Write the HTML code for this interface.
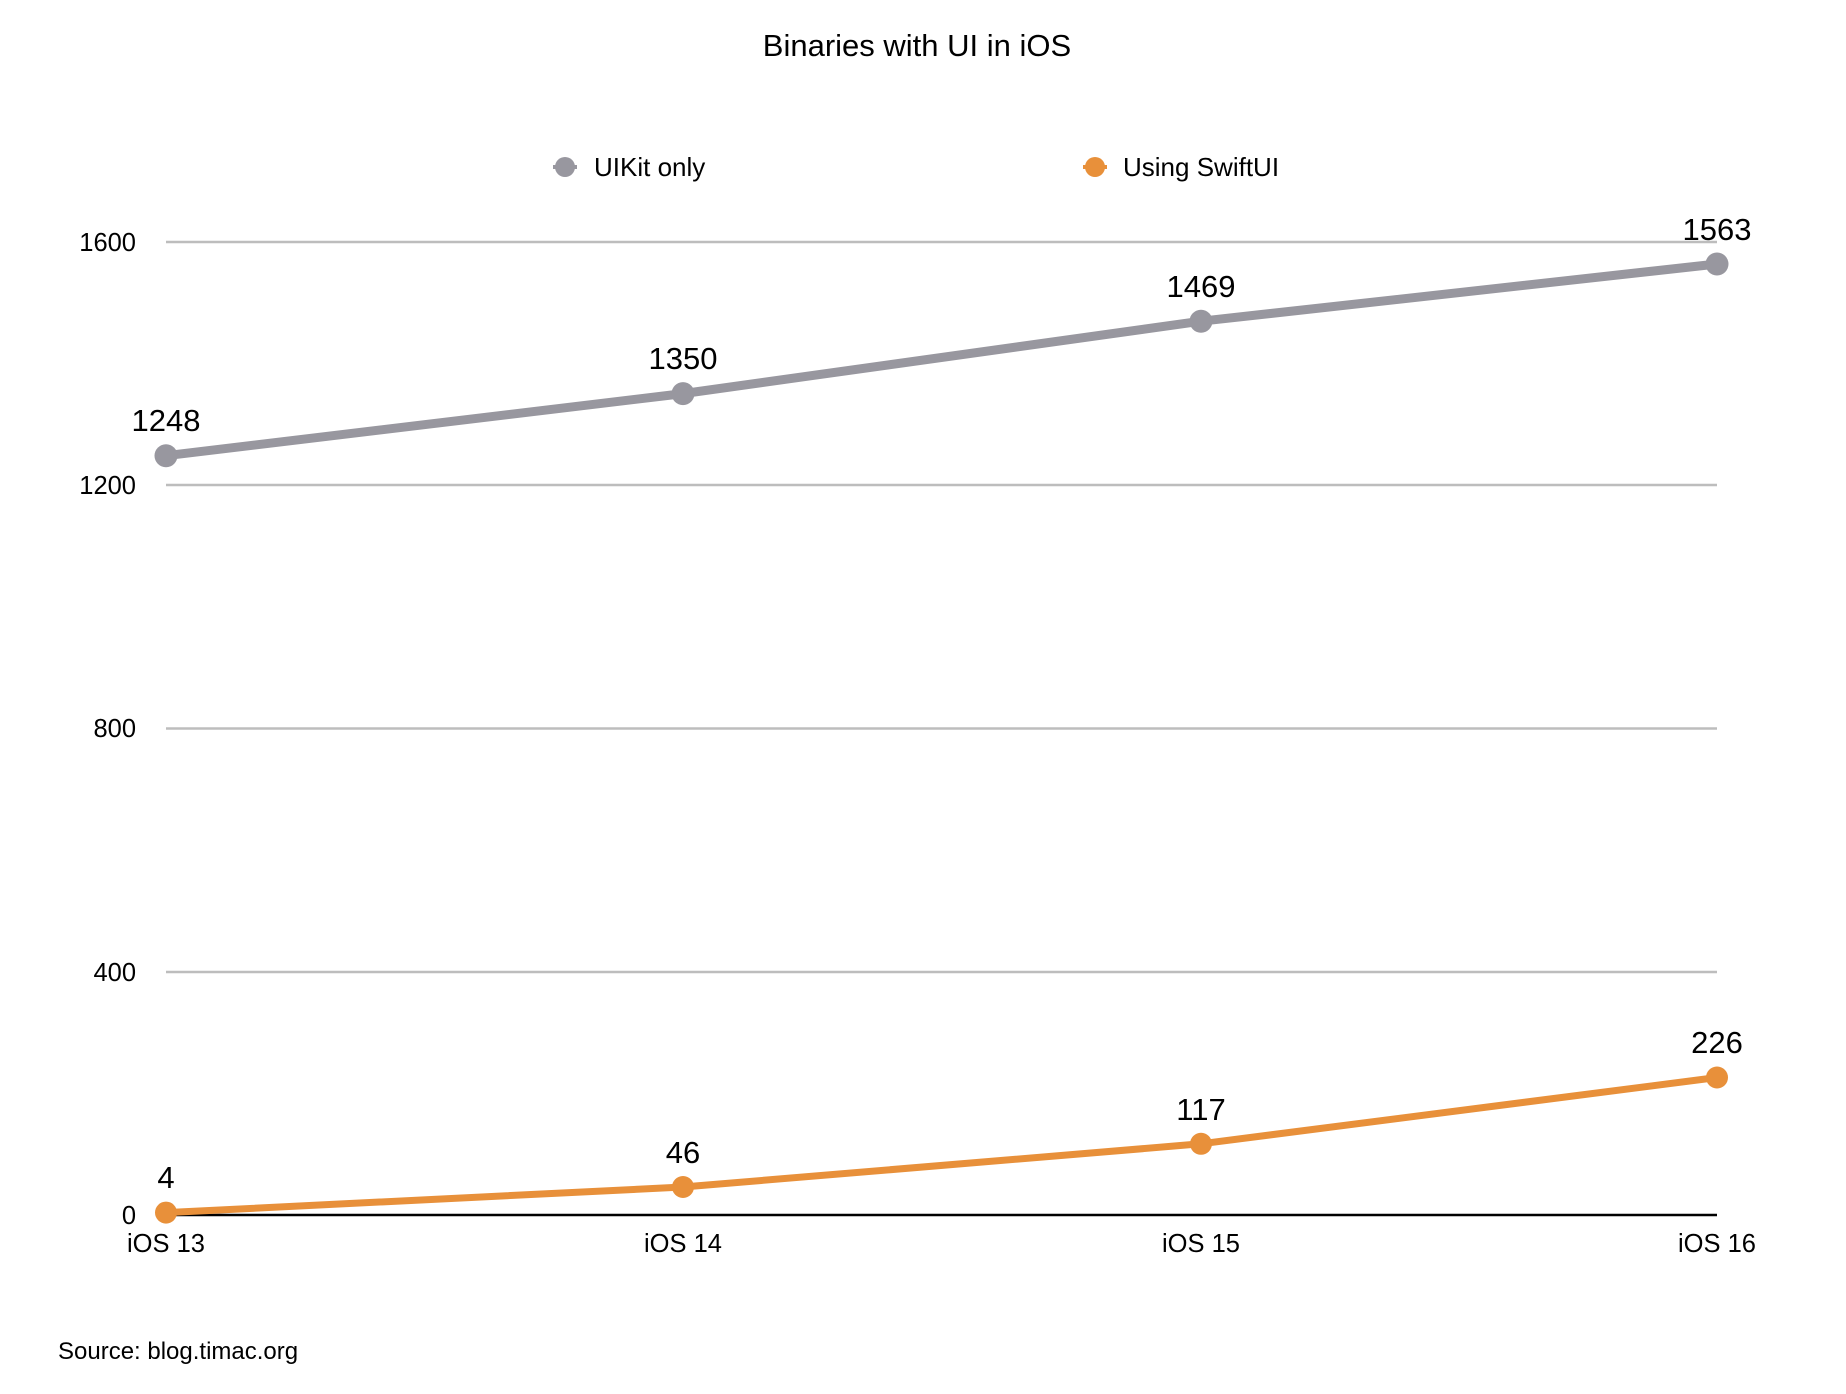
<!DOCTYPE html>
<html><head><meta charset="utf-8"><style>
html,body{margin:0;padding:0;background:#fff;}
svg{display:block;font-family:"Liberation Sans",Arial,sans-serif;}
</style></head><body>
<svg width="1846" height="1394" viewBox="0 0 1846 1394" xmlns="http://www.w3.org/2000/svg">
<rect width="1846" height="1394" fill="#fff"/>
<text x="917" y="56" font-size="31" text-anchor="middle" fill="#000">Binaries with UI in iOS</text>
<!-- legend -->
<line x1="553" y1="167" x2="577" y2="167" stroke="#98979f" stroke-width="4"/>
<circle cx="565" cy="167" r="10" fill="#98979f"/>
<text x="594" y="176" font-size="26" fill="#000">UIKit only</text>
<line x1="1083" y1="167" x2="1107" y2="167" stroke="#e8903a" stroke-width="4"/>
<circle cx="1095" cy="167" r="10" fill="#e8903a"/>
<text x="1123" y="176" font-size="26" fill="#000">Using SwiftUI</text>
<!-- grid -->
<g stroke="#bdbdbd" stroke-width="2.5">
<line x1="166" y1="242" x2="1717" y2="242"/>
<line x1="166" y1="485" x2="1717" y2="485"/>
<line x1="166" y1="728.5" x2="1717" y2="728.5"/>
<line x1="166" y1="972" x2="1717" y2="972"/>
</g>
<line x1="166" y1="1215" x2="1717" y2="1215" stroke="#000" stroke-width="2.5"/>
<g font-size="25.5" text-anchor="end" fill="#000">
<text x="136" y="251">1600</text>
<text x="136" y="494">1200</text>
<text x="136" y="737">800</text>
<text x="136" y="981">400</text>
<text x="136" y="1224">0</text>
</g>
<g font-size="25.5" text-anchor="middle" fill="#000">
<text x="166" y="1252">iOS 13</text>
<text x="683" y="1252">iOS 14</text>
<text x="1201" y="1252">iOS 15</text>
<text x="1717" y="1252">iOS 16</text>
</g>
<!-- UIKit series -->
<polyline points="166,455.7 683,393.6 1201,321.2 1717,264" fill="none" stroke="#98979f" stroke-width="9" stroke-linejoin="round"/>
<g fill="#98979f">
<circle cx="166" cy="455.7" r="11.5"/><circle cx="683" cy="393.6" r="11.5"/><circle cx="1201" cy="321.2" r="11.5"/><circle cx="1717" cy="264" r="11.5"/>
</g>
<!-- SwiftUI series -->
<polyline points="166,1212.6 683,1187 1201,1143.8 1717,1077.5" fill="none" stroke="#e8903a" stroke-width="7" stroke-linejoin="round"/>
<g fill="#e8903a">
<circle cx="166" cy="1212.6" r="11"/><circle cx="683" cy="1187" r="11"/><circle cx="1201" cy="1143.8" r="11"/><circle cx="1717" cy="1077.5" r="11"/>
</g>
<g font-size="31" text-anchor="middle" fill="#000">
<text x="166" y="431">1248</text>
<text x="683" y="369">1350</text>
<text x="1201" y="297">1469</text>
<text x="1717" y="240">1563</text>
<text x="166" y="1188">4</text>
<text x="683" y="1163">46</text>
<text x="1201" y="1120">117</text>
<text x="1717" y="1053">226</text>
</g>
<text x="58" y="1359" font-size="24" fill="#000">Source: blog.timac.org</text>
</svg>
</body></html>
